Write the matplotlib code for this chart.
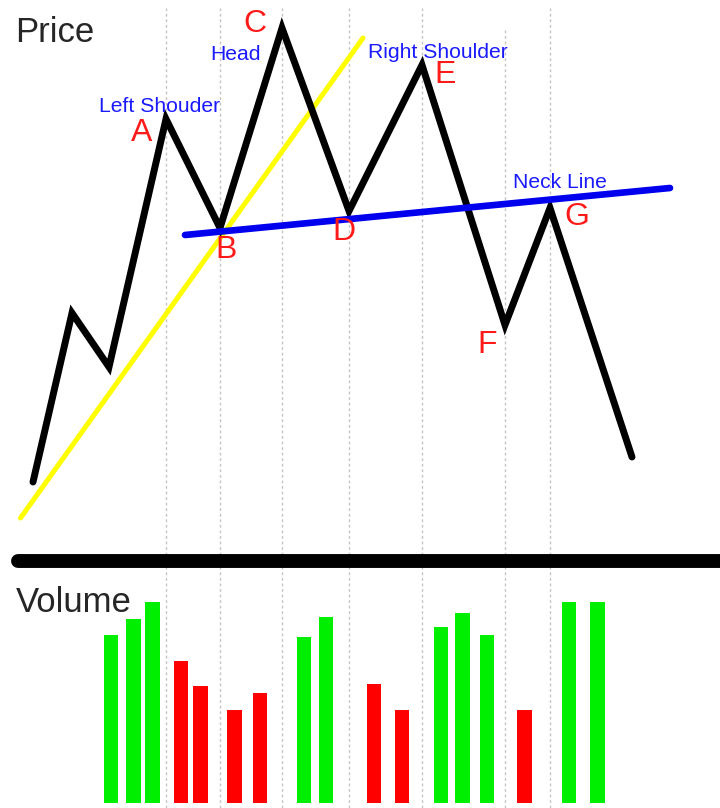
import matplotlib
matplotlib.use("Agg")
import matplotlib.pyplot as plt

# ---- data (time in days, price and volume in arbitrary units) ----
price_days = [6.6, 14.4, 21.8, 33.2, 44.0, 56.4, 69.8, 84.4, 101.0, 110.0, 126.4]
price_vals = [11.6, 45.4, 34.6, 84.2, 62.4, 102.4, 65.8, 95.0, 43.0, 66.4, 16.6]

point_names = ["A", "B", "C", "D", "E", "F", "G"]
point_days = [33.2, 44.0, 56.4, 69.8, 84.4, 101.0, 110.0]

trend_days = [4.1, 72.6]
trend_vals = [4.4, 100.4]
neck_days = [37.0, 134.0]
neck_vals = [61.0, 70.4]

vol_days = [22.2, 26.7, 30.5, 36.2, 40.1, 46.9, 52.0, 60.8, 65.2,
            74.8, 80.4, 88.2, 92.5, 97.4, 104.9, 113.8, 119.5]
vol_vals = [84, 92, 100.5, 71, 58.5, 46.5, 55, 83, 93,
            59.5, 46.5, 88, 95, 84, 46.5, 100.5, 100.5]
vol_up = [True, True, True, False, False, False, False, True, True,
          False, False, True, True, True, False, True, True]

# label positions (day, price)
letter_pos = {"A": (28.4, 81.4), "B": (45.2, 58.0), "C": (51.0, 103.2),
              "D": (68.8, 61.6), "E": (89.0, 93.0), "F": (97.4, 39.0),
              "G": (115.4, 64.6)}
pattern_labels = [("Left Shouder", 32.0, 86.6), ("Head", 47.0, 97.2),
                  ("Right Shoulder", 87.6, 97.4), ("Neck Line", 112.0, 71.6)]

plt.rcParams['font.family'] = ['Liberation Sans', 'DejaVu Sans']

W, H = 720, 808
fig = plt.figure(figsize=(W / 100, H / 100), dpi=100)
split = 555
ax_p = fig.add_axes([0, (H - split) / H, 1, split / H])
ax_v = fig.add_axes([0, 0, 1, (H - split) / H])
for ax in (ax_p, ax_v):
    ax.set_xlim(0, 144)
    ax.set_axis_off()
ax_p.set_ylim(-3, 108)
ax_v.set_ylim(-2.5, 124)

grid_kw = dict(color="#c4c4c4", lw=1.0, ls=(0, (2, 2)), zorder=0)
for d, n in zip(point_days, point_names):
    top = (split - (28 if n == "F" else 8)) / split
    ax_p.axvline(d, ymin=0, ymax=top, **grid_kw)
    ax_v.axvline(d, **grid_kw)

# price path
ax_p.plot(trend_days, trend_vals, color="#ffff00", lw=3.6, solid_capstyle="round", zorder=2)
ax_p.plot(price_days, price_vals, color="black", lw=5, solid_joinstyle="miter",
          solid_capstyle="round", zorder=3)
ax_p.plot(neck_days, neck_vals, color="#0000ee", lw=4.8, solid_capstyle="round", zorder=4)

for n, (x, y) in letter_pos.items():
    ax_p.text(x, y, n, color="#ff1a1a", fontsize=23, ha="center", va="center", zorder=5)
for t, x, y in pattern_labels:
    ax_p.text(x, y, t, color="#1a1aff", fontsize=15.2, ha="center", va="center", zorder=5)

ax_p.text(3.0, 101.4, "Price", color="#262626", fontsize=25, ha="left", va="center")

# separator
ax_v.axhline(121, xmin=18 / 720, xmax=1.02, color="black", lw=10,
             solid_capstyle="round", clip_on=False, zorder=3)

# volume bars
colors = ["#00ee00" if u else "#ff0000" for u in vol_up]
ax_v.bar(vol_days, vol_vals, width=2.9, color=colors, zorder=2)
ax_v.text(3.2, 100.5, "Volume", color="#262626", fontsize=25, ha="left", va="center")

fig.savefig("out.png", dpi=100, facecolor="white")
